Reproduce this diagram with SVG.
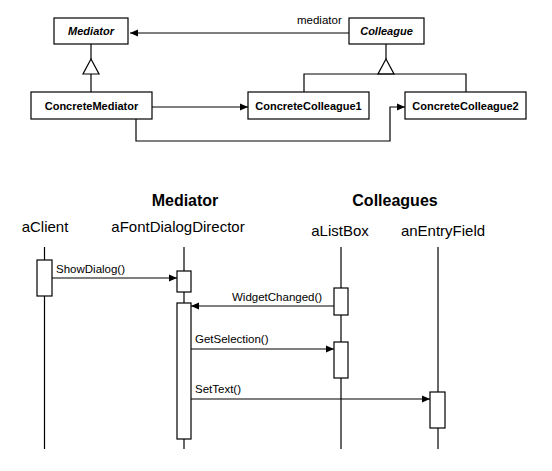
<svg xmlns="http://www.w3.org/2000/svg" width="552" height="471" viewBox="0 0 552 471">
<style>
.box{fill:#fff;stroke:#000;stroke-width:1.2}
.ln{fill:none;stroke:#000;stroke-width:1.2}
.cls{font-family:"Liberation Sans",Arial,sans-serif;font-size:11px;font-weight:bold;text-anchor:middle}
.abs{font-style:italic}
.lbl{font-family:"Liberation Sans",Arial,sans-serif;font-size:11.5px}
.hdr{font-family:"Liberation Sans",Arial,sans-serif;font-size:16px;font-weight:bold;text-anchor:middle}
.obj{font-family:"Liberation Sans",Arial,sans-serif;font-size:15px;text-anchor:middle}
</style>
<defs>
<marker id="ah" markerWidth="9" markerHeight="8" refX="8" refY="4" orient="auto" markerUnits="userSpaceOnUse">
<path d="M0,0.5 L8,4 L0,7.5 Z" fill="#000"/>
</marker>
</defs>
<rect width="552" height="471" fill="#fff"/>

<g id="connectors">
<!-- class diagram -->
<line class="ln" x1="349" y1="33" x2="130" y2="33" marker-end="url(#ah)"/>
<line class="ln" x1="91" y1="44" x2="91" y2="59"/>
<polygon class="box" points="91,59 99,74 83,74"/>
<line class="ln" x1="91" y1="74" x2="91" y2="92"/>
<line class="ln" x1="386" y1="44" x2="386" y2="59"/>
<polygon class="box" points="386,59 394,74 378,74"/>
<polyline class="ln" points="304,92 304,74 466,74 466,92"/>
<line class="ln" x1="152" y1="107" x2="248" y2="107" marker-end="url(#ah)"/>
<polyline class="ln" points="136,119 136,141 390,141 390,107 405,107" marker-end="url(#ah)"/>
<!-- lifelines -->
<line class="ln" x1="44.5" y1="247" x2="44.5" y2="449"/>
<line class="ln" x1="184" y1="247" x2="184" y2="449"/>
<line class="ln" x1="341" y1="247" x2="341" y2="449"/>
<line class="ln" x1="438" y1="247" x2="438" y2="449"/>
<!-- messages -->
<line class="ln" x1="52" y1="278" x2="177" y2="278" marker-end="url(#ah)"/>
<line class="ln" x1="334" y1="306" x2="191" y2="306" marker-end="url(#ah)"/>
<line class="ln" x1="191" y1="349" x2="334" y2="349" marker-end="url(#ah)"/>
<line class="ln" x1="191" y1="399" x2="430" y2="399" marker-end="url(#ah)"/>
</g>

<g id="Mediator">
<rect class="box" x="54" y="18" width="74" height="26"/>
<text class="cls abs" x="91" y="35">Mediator</text>
</g>
<g id="Colleague">
<rect class="box" x="349" y="18" width="75" height="26"/>
<text class="cls abs" x="386.5" y="35">Colleague</text>
</g>
<text id="mediatorLabel" class="lbl" x="297" y="24">mediator</text>
<g id="ConcreteMediator">
<rect class="box" x="31" y="92" width="121" height="27"/>
<text class="cls" x="91.5" y="109.5">ConcreteMediator</text>
</g>
<g id="ConcreteColleague1">
<rect class="box" x="248" y="92" width="121" height="27"/>
<text class="cls" x="308.5" y="109.5">ConcreteColleague1</text>
</g>
<g id="ConcreteColleague2">
<rect class="box" x="405" y="92" width="121" height="27"/>
<text class="cls" x="465.5" y="109.5">ConcreteColleague2</text>
</g>

<text class="hdr" x="185" y="206">Mediator</text>
<text class="hdr" x="395" y="206">Colleagues</text>

<g id="aClient">
<text class="obj" x="45" y="232">aClient</text>
<rect class="box" x="37" y="260" width="15" height="36"/>
</g>
<g id="aFontDialogDirector">
<text class="obj" x="178" y="232">aFontDialogDirector</text>
<rect class="box" x="177" y="271" width="14" height="21"/>
<rect class="box" x="177" y="303" width="14" height="136"/>
</g>
<g id="aListBox">
<text class="obj" x="340" y="235.5">aListBox</text>
<rect class="box" x="334" y="288" width="14" height="27"/>
<rect class="box" x="334" y="342" width="14" height="36"/>
</g>
<g id="anEntryField">
<text class="obj" x="443" y="235.5">anEntryField</text>
<rect class="box" x="430" y="392" width="15" height="36"/>
</g>

<text class="lbl" x="56" y="273">ShowDialog()</text>
<text class="lbl" x="232" y="301">WidgetChanged()</text>
<text class="lbl" x="195" y="343">GetSelection()</text>
<text class="lbl" x="195" y="393">SetText()</text>
</svg>
